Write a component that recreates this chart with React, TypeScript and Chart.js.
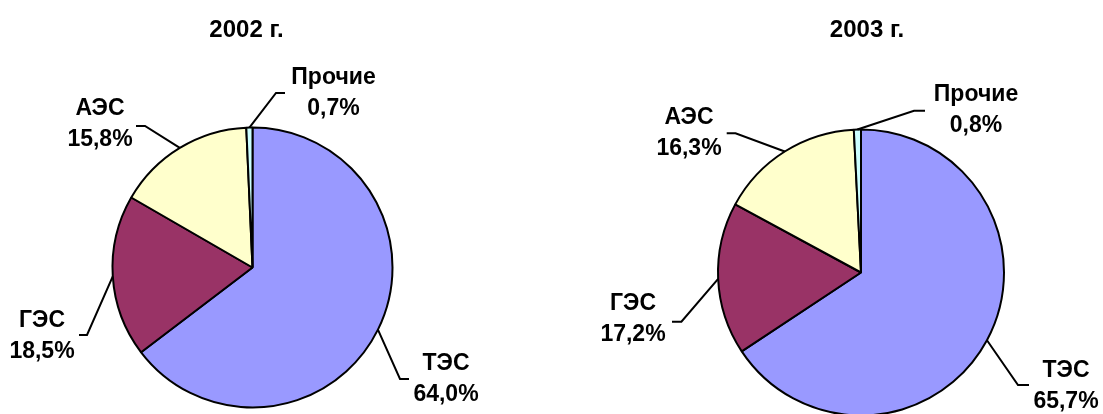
import React, { useEffect, useRef } from 'react';
import { Chart, registerables } from 'chart.js';

Chart.register(...registerables);

// ---- data ----
const categories = ['ТЭС', 'ГЭС', 'АЭС', 'Прочие'];
const values2002 = [64.0, 18.5, 15.8, 0.7];
const values2003 = [65.7, 17.2, 16.3, 0.8];
const titles = ['2002 г.', '2003 г.'];

// ---- styles ----
const sliceColors = ['#9999FF', '#993366', '#FFFFCC', '#CCFFFF'];
const FONT = '"Liberation Sans", Arial, sans-serif';
const PAGE_H = 414;

// ---- layout (page px) ----
const panels = [
  {
    left: 0, width: 551, cx: 252.5, cy: 267.5, r: 140,
    titleX: 246.5, titleY: 30.5,
    labels: [
      { x: 446, y: 363.3, ex: 400, ey: 379, hx: 409 },
      { x: 42, y: 320.8, ex: 87, ey: 335, hx: 79 },
      { x: 100, y: 109, ex: 145, ey: 126, hx: 136 },
      { x: 333.5, y: 77.7, ex: 276, ey: 93, hx: 285 },
    ],
  },
  {
    left: 551, width: 552, cx: 861, cy: 272.5, r: 143,
    titleX: 867, titleY: 30.8,
    labels: [
      { x: 1066, y: 370.8, ex: 1018, ey: 385, hx: 1029 },
      { x: 633, y: 304, ex: 681.4, ey: 321.7, hx: 672 },
      { x: 689, y: 117.2, ex: 735.5, ey: 133.3, hx: 726.7 },
      { x: 976, y: 95, ex: 914, ey: 110.7, hx: 925 },
    ],
  },
];

const fmt = (v: number) => v.toFixed(1).replace('.', ',') + '%';

const leaderLabels = {
  id: 'leaderLabels',
  afterDatasetsDraw(chart: any, _args: any, opts: any) {
    const ctx = chart.ctx;
    const meta = chart.getDatasetMeta(0);
    const values = chart.data.datasets[0].data as number[];
    const off = opts.left;
    ctx.save();
    // title
    ctx.fillStyle = '#000';
    ctx.textAlign = 'center';
    ctx.textBaseline = 'middle';
    ctx.font = `bold 24px ${FONT}`;
    ctx.fillText(opts.title, opts.titleX - off, opts.titleY);
    ctx.font = `bold 23px ${FONT}`;
    meta.data.forEach((arc: any, i: number) => {
      const p = arc.getProps(['x', 'y', 'startAngle', 'endAngle', 'outerRadius'], true);
      const mid = (p.startAngle + p.endAngle) / 2;
      const sx = p.x + Math.cos(mid) * p.outerRadius;
      const sy = p.y + Math.sin(mid) * p.outerRadius;
      const L = opts.labels[i];
      ctx.strokeStyle = '#000';
      ctx.lineWidth = 2;
      ctx.beginPath();
      ctx.moveTo(sx, sy);
      ctx.lineTo(L.ex - off, L.ey);
      ctx.lineTo(L.hx - off, L.ey);
      ctx.stroke();
      ctx.fillText(chart.data.labels[i], L.x - off, L.y);
      ctx.fillText(fmt(values[i]), L.x - off, L.y + 31);
    });
    ctx.restore();
  },
};

function PiePanel({ idx, values }: { idx: number; values: number[] }) {
  const ref = useRef<HTMLCanvasElement | null>(null);
  const P = panels[idx];
  useEffect(() => {
    if (!ref.current) return;
    const lcx = P.cx - P.left;
    const padL = lcx <= P.width / 2 ? 0 : 2 * lcx - P.width;
    const padR = lcx <= P.width / 2 ? P.width - 2 * lcx : 0;
    const padT = P.cy >= PAGE_H / 2 ? 2 * P.cy - PAGE_H : 0;
    const padB = P.cy >= PAGE_H / 2 ? 0 : PAGE_H - 2 * P.cy;
    const chart = new Chart(ref.current, {
      type: 'pie',
      data: {
        labels: categories,
        datasets: [
          {
            data: values,
            backgroundColor: sliceColors,
            borderColor: '#000',
            borderWidth: 2,
            clip: false as any,
          },
        ],
      },
      options: {
        responsive: false,
        animation: false,
        radius: P.r,
        layout: { padding: { left: padL, right: padR, top: padT, bottom: padB } },
        plugins: {
          legend: { display: false },
          tooltip: { enabled: false },
          leaderLabels: {
            left: P.left,
            title: titles[idx],
            titleX: P.titleX,
            titleY: P.titleY,
            labels: P.labels,
          },
        } as any,
      } as any,
      plugins: [leaderLabels],
    });
    return () => chart.destroy();
  }, []);
  return (
    <canvas
      ref={ref}
      width={P.width}
      height={PAGE_H}
      style={{ position: 'absolute', left: P.left, top: 0, width: P.width, height: PAGE_H }}
    />
  );
}

export default function App() {
  return (
    <div style={{ position: 'fixed', left: 0, top: 0, width: 1103, height: PAGE_H, background: '#fff', overflow: 'hidden' }}>
      <PiePanel idx={0} values={values2002} />
      <PiePanel idx={1} values={values2003} />
    </div>
  );
}
